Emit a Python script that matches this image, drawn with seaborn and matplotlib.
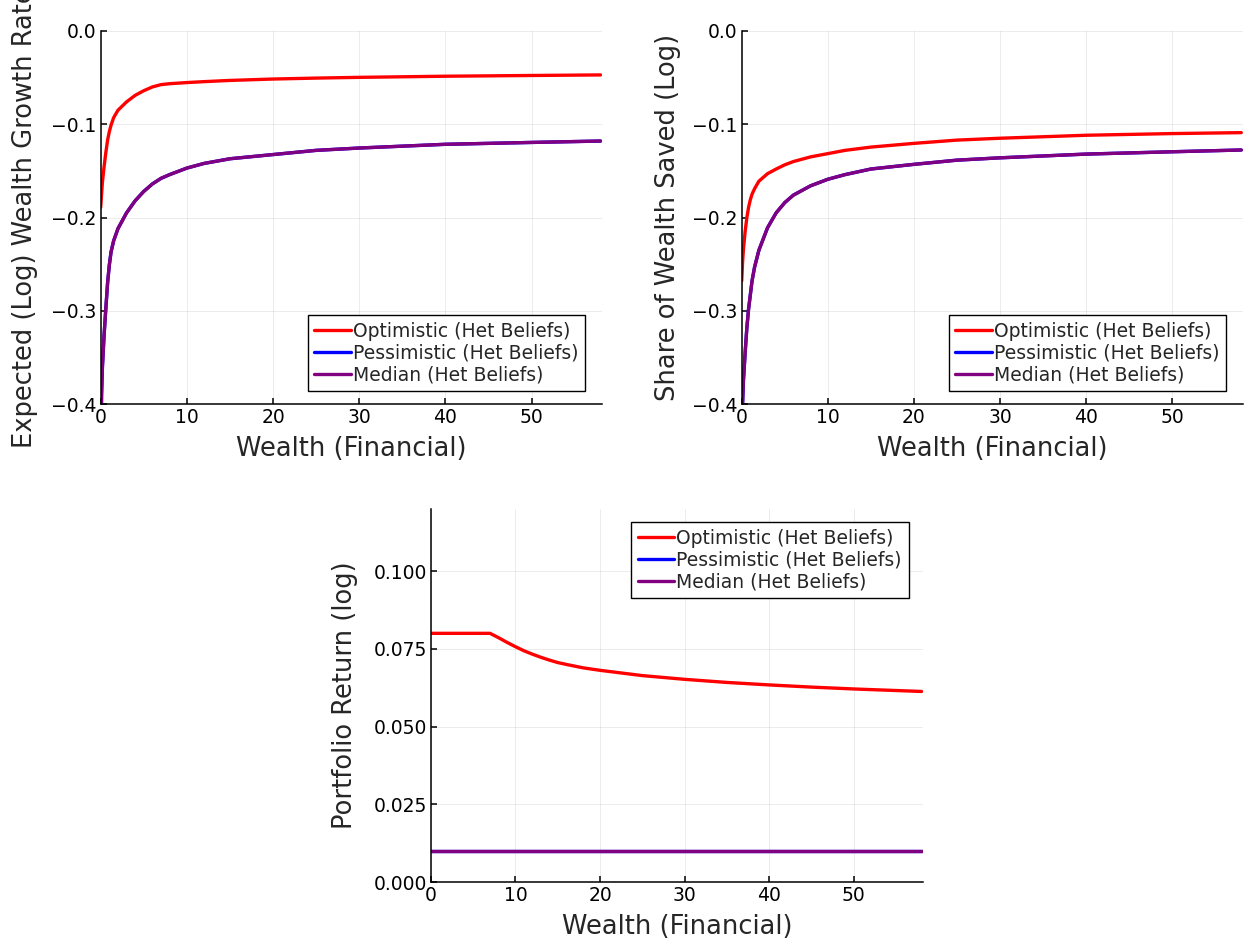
import numpy as np, pandas as pd, matplotlib
matplotlib.use('Agg')
import matplotlib.pyplot as plt
import seaborn as sns

### data ###
wealth = [0, 0.1, 0.2, 0.4, 0.6, 0.8, 1.0, 1.2, 1.5, 2, 3, 4, 5, 6, 7, 8,
          10, 12, 15, 20, 25, 30, 40, 50, 58]

opt_growth = [-0.189, -0.175, -0.162, -0.145, -0.130, -0.117, -0.108, -0.101, -0.093,
              -0.085, -0.076, -0.069, -0.064, -0.060, -0.0575, -0.0565,
              -0.0553, -0.0543, -0.0530, -0.0515, -0.0505, -0.0497, -0.0485, -0.0477, -0.0471]
med_growth = [-0.48, -0.39, -0.36, -0.325, -0.297, -0.270, -0.251, -0.237, -0.225,
              -0.212, -0.195, -0.182, -0.172, -0.164, -0.158, -0.154,
              -0.147, -0.142, -0.137, -0.1325, -0.128, -0.1255, -0.1215, -0.1195, -0.118]
pess_growth = list(med_growth)  # pessimistic sits exactly under the median line

opt_saved = [-0.268, -0.248, -0.234, -0.215, -0.200, -0.189, -0.181, -0.175, -0.169,
             -0.161, -0.153, -0.148, -0.1435, -0.140, -0.1375, -0.135,
             -0.1315, -0.128, -0.1245, -0.1205, -0.117, -0.115, -0.1118, -0.110, -0.109]
med_saved = [-0.47, -0.40, -0.375, -0.345, -0.318, -0.298, -0.283, -0.268, -0.253,
             -0.235, -0.211, -0.195, -0.184, -0.176, -0.171, -0.166,
             -0.159, -0.154, -0.148, -0.143, -0.1385, -0.136, -0.132, -0.1295, -0.1276]
pess_saved = list(med_saved)

wealth_ret = [0, 7, 8, 9, 10, 11, 12, 13, 14, 15, 16, 18, 20, 25, 30, 35, 40, 45, 50, 58]
opt_ret = [0.080, 0.080, 0.0786, 0.0771, 0.0757, 0.0744, 0.0733, 0.0723, 0.0714, 0.0706,
           0.0700, 0.0689, 0.0681, 0.0664, 0.0652, 0.0642, 0.0634, 0.0627, 0.0621, 0.0613]
med_ret = [0.010] * len(wealth_ret)
pess_ret = list(med_ret)

labels = ['Optimistic (Het Beliefs)', 'Pessimistic (Het Beliefs)', 'Median (Het Beliefs)']
colors = ['#ff0000', '#0000ff', '#800080']

sns.set_theme(style='white')
plt.rcParams['font.family'] = ['DejaVu Sans']
plt.rcParams['axes.unicode_minus'] = True

fig = plt.figure(figsize=(12.44, 9.43), dpi=100)
W, H = 1244, 943
def rect(l, t, r, b):
    return [l / W, (H - b) / H, (r - l) / W, (b - t) / H]

ax1 = fig.add_axes(rect(100.7, 31, 602.3, 404))
ax2 = fig.add_axes(rect(741.7, 31, 1243, 404))
ax3 = fig.add_axes(rect(430.8, 509, 923.3, 882))

panels = [
    (ax1, wealth, [opt_growth, pess_growth, med_growth], 'Expected (Log) Wealth Growth Rate', (-0.4, 0.0), -0.125),
    (ax2, wealth, [opt_saved, pess_saved, med_saved], 'Share of Wealth Saved (Log)', (-0.4, 0.0), -0.122),
    (ax3, wealth_ret, [opt_ret, pess_ret, med_ret], 'Portfolio Return (log)', (0.0, 0.12), -0.148),
]

for ax, xs, ys, ylab, ylim, ylx in panels:
    for y, lab, c in zip(ys, labels, colors):
        sns.lineplot(x=xs, y=y, ax=ax, color=c, label=lab, lw=2.4)
    ax.set_xlim(0, 58.2)
    ax.set_ylim(*ylim)
    ax.set_xticks([0, 10, 20, 30, 40, 50])
    if ylim[1] > 0.05:
        ax.set_yticks([0, 0.025, 0.05, 0.075, 0.1])
    else:
        ax.set_yticks([-0.4, -0.3, -0.2, -0.1, 0.0])
    ax.grid(True, color='black', alpha=0.09, lw=0.6)
    for s in ['top', 'right']:
        ax.spines[s].set_visible(False)
    for s in ['left', 'bottom']:
        ax.spines[s].set_color('black')
        ax.spines[s].set_linewidth(1.1)
    ax.tick_params(direction='in', length=4, width=1.1, colors='black', labelsize=13.5, pad=3,
                   left=True, bottom=True)
    ax.set_xlabel('Wealth (Financial)', fontsize=18.5)
    ax.set_ylabel(ylab, fontsize=18.5)
    ax.xaxis.set_label_coords(0.5, -0.085)
    ax.yaxis.set_label_coords(ylx, 0.5)

leg_kw = dict(fontsize=13.5, frameon=True, fancybox=False, edgecolor='black', framealpha=1,
              borderpad=0.35, handlelength=1.95, handletextpad=0.12, labelspacing=0.15,
              borderaxespad=0)
for ax in (ax1, ax2):
    lg = ax.legend(loc='lower right', bbox_to_anchor=(0.966, 0.035), **leg_kw)
    lg.get_frame().set_linewidth(1.0)
lg = ax3.legend(loc='upper right', bbox_to_anchor=(0.97, 0.965), **leg_kw)
lg.get_frame().set_linewidth(1.0)

plt.savefig('out.png', dpi=100)
